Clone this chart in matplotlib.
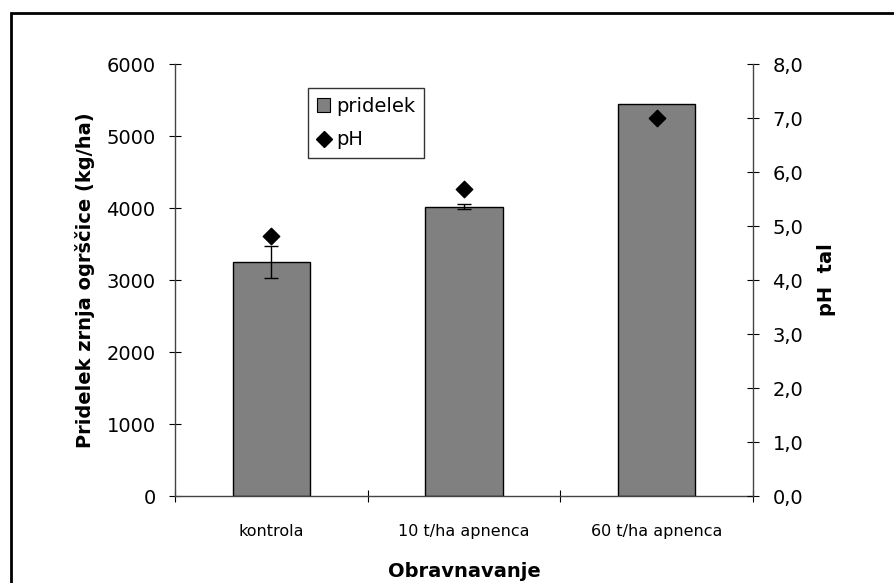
import matplotlib.pyplot as plt
from matplotlib.patches import Rectangle
from matplotlib.lines import Line2D
from matplotlib.ticker import FuncFormatter

plt.rcParams['font.family'] = ['DejaVu Sans']

categories = ['kontrola', '10 t/ha apnenca', '60 t/ha apnenca']
yield_kg = [3250, 4020, 5440]
yield_err = [220, 35, 0]
ph_values = [4.82, 5.68, 7.0]

fig = plt.figure(figsize=(8.95, 5.83), dpi=100)
# outer chart frame (right and bottom are cut off in the original)
fig.patches.append(Rectangle((11 / 895, -0.05), 1.1, 1 - 13 / 583 + 0.05,
                             transform=fig.transFigure, fill=False,
                             edgecolor='black', linewidth=2))

ax = fig.add_axes([175 / 895, 87 / 583, 578 / 895, 432 / 583])
x = range(len(categories))
ax.bar(x, yield_kg, width=0.4, color='#808080', edgecolor='black', linewidth=1)
ax.errorbar([i for i in x if yield_err[i] > 0],
            [yield_kg[i] for i in x if yield_err[i] > 0],
            yerr=[yield_err[i] for i in x if yield_err[i] > 0],
            fmt='none', ecolor='black', elinewidth=1, capsize=5, capthick=1)
ax.set_xlim(-0.5, 2.5)
ax.set_ylim(0, 6000)
ax.set_yticks(range(0, 6001, 1000))
ax.set_xticks([-0.5, 0.5, 1.5, 2.5], minor=False)
ax.set_xticklabels([])
ax.set_xticks(list(x), minor=True)
ax.set_xticklabels(categories, minor=True, fontsize=11.5)
ax.tick_params(axis='x', which='minor', length=0, pad=20)
ax.tick_params(axis='x', which='major', direction='inout', length=8, width=0.8)
ax.tick_params(axis='y', direction='inout', length=8, width=0.8, labelsize=14, pad=10)
ax.spines['top'].set_visible(False)
ax.spines['right'].set_visible(False)
for s in ('left', 'bottom'):
    ax.spines[s].set_color('#444444')
    ax.spines[s].set_linewidth(1)
ax.set_ylabel('Pridelek zrnja ogrščice (kg/ha)', fontsize=14, fontweight='bold', labelpad=8)
ax.set_xlabel('Obravnavanje', fontsize=14, fontweight='bold', labelpad=17)

ax2 = ax.twinx()
ax2.scatter(list(x), ph_values, marker='D', s=70, color='black', zorder=3)
ax2.set_ylim(0, 8)
ax2.set_yticks(range(0, 9))
ax2.yaxis.set_major_formatter(FuncFormatter(lambda v, p: f'{v:.1f}'.replace('.', ',')))
ax2.tick_params(axis='y', direction='inout', length=8, width=0.8, labelsize=14, pad=10)
for s in ('top', 'left', 'bottom'):
    ax2.spines[s].set_visible(False)
ax2.spines['right'].set_color('#444444')
ax2.spines['right'].set_linewidth(1)
ax2.set_ylabel('pH  tal', fontsize=14, fontweight='bold', labelpad=10)

handles = [Rectangle((0, 0), 1, 1, facecolor='#808080', edgecolor='black', linewidth=0.8),
           Line2D([], [], marker='D', color='black', linestyle='none', markersize=8)]
leg = ax.legend(handles, ['pridelek', 'pH'], loc='upper left',
                bbox_to_anchor=((308 - 175) / 578, (496 - 88) / 432),
                fontsize=14, frameon=True, fancybox=False, edgecolor='black',
                handlelength=0.7, handleheight=0.7, handletextpad=0.3,
                borderpad=0.45, labelspacing=0.75, borderaxespad=0)
leg.get_frame().set_linewidth(1)

fig.savefig('out.png', dpi=100, facecolor='white')
